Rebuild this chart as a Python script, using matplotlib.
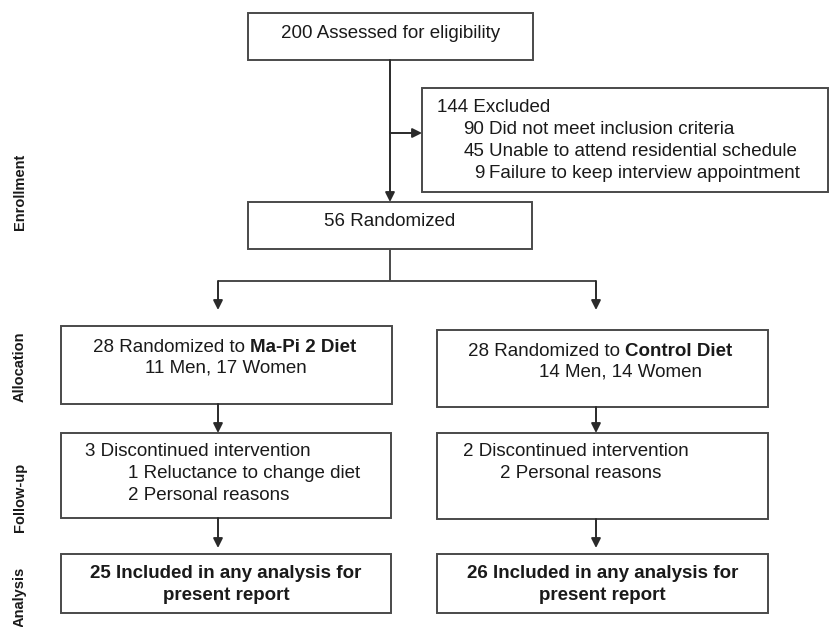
import matplotlib.pyplot as plt
from matplotlib.patches import Rectangle

# Akış şeması verileri
stage_labels = ['Enrollment', 'Allocation', 'Follow-up', 'Analysis']
assessed = 200
excluded_total = 144
excluded_counts = [90, 45, 9]
excluded_reasons = ['Did not meet inclusion criteria',
                    'Unable to attend residential schedule',
                    'Failure to keep interview appointment']
randomized = 56
arm_names = ['Ma-Pi 2 Diet', 'Control Diet']
arm_n = [28, 28]
men = [11, 14]
women = [17, 14]
discontinued = [3, 2]
disc_counts = [[1, 2], [2]]
disc_reasons = [['Reluctance to change diet', 'Personal reasons'], ['Personal reasons']]
analysed = [25, 26]

plt.rcParams['font.family'] = ['Liberation Sans', 'DejaVu Sans']
FS = 13.5
TXT = '#1a1a1a'
EDGE = '#4a4a4a'
LW = 1.4

fig = plt.figure(figsize=(8.3, 6.27), dpi=100)
ax = fig.add_axes([0, 0, 1, 1])
ax.set_xlim(0, 830)
ax.set_ylim(627, 0)
ax.axis('off')


def box(x0, y0, x1, y1):
    ax.add_patch(Rectangle((x0, y0), x1 - x0, y1 - y0, fill=False,
                           edgecolor=EDGE, lw=LW, clip_on=False))


def line(xs, ys):
    ax.plot(xs, ys, color=EDGE, lw=LW, solid_capstyle='butt')


def arrow(x0, y0, x1, y1):
    ax.annotate('', xy=(x1, y1), xytext=(x0, y0),
                arrowprops=dict(arrowstyle='-|>', color='#2a2a2a', lw=LW,
                                mutation_scale=14, shrinkA=0, shrinkB=0))


def txt(x, y, s, ha='left', bold=False, size=FS):
    return ax.text(x, y, s, ha=ha, va='center', fontsize=size, color=TXT,
                   fontweight='bold' if bold else 'normal')


# Kayıt aşaması
box(248, 13, 533, 60)
txt(390.5, 33, f'{assessed} Assessed for eligibility', ha='center')
arrow(390, 60, 390, 202)

box(422, 88, 828, 192)
arrow(390, 133, 422, 133)
txt(437, 108, f'{excluded_total} Excluded')
for i, (n, r) in enumerate(zip(excluded_counts, excluded_reasons)):
    y = 130 + i * 22
    txt(484, y, str(n), ha='right')
    txt(489, y, r)

box(248, 202, 532, 249)
txt(390, 222, f'{randomized} Randomized', ha='center')

# Dallanma
line([390, 390], [249, 281])
line([218, 596], [281, 281])
arm_x = [218, 596]
for x in arm_x:
    arrow(x, 281, x, 310)

# Kollar
alloc_box = [(61, 326, 392, 404), (437, 330, 768, 407)]
line1_x = [93, 468]
line2_x = [226, 620]
fu_box = [(61, 433, 391, 518), (437, 433, 768, 519)]
fu_x = [85, 463]
fu_sub_x = [128, 500]
an_box = [(61, 554, 391, 613), (437, 554, 768, 613)]

for k in range(2):
    x0, y0, x1, y1 = alloc_box[k]
    box(x0, y0, x1, y1)
    t = txt(line1_x[k], y0 + 21, f'{arm_n[k]} Randomized to ')
    ax.annotate(arm_names[k], xy=(1, 0), xycoords=t, ha='left', va='bottom',
                fontsize=FS, fontweight='bold', color=TXT)
    txt(line2_x[k], y0 + 42, f'{men[k]} Men, {women[k]} Women', ha='center')
    arrow(arm_x[k], y1, arm_x[k], 433)

    x0, y0, x1, y1 = fu_box[k]
    box(x0, y0, x1, y1)
    txt(fu_x[k], 452, f'{discontinued[k]} Discontinued intervention')
    for j, (n, r) in enumerate(zip(disc_counts[k], disc_reasons[k])):
        txt(fu_sub_x[k], 474 + j * 22, f'{n} {r}')
    arrow(arm_x[k], y1, arm_x[k], 548)

    x0, y0, x1, y1 = an_box[k]
    box(x0, y0, x1, y1)
    cx = (x0 + x1) / 2
    txt(cx, 573, f'{analysed[k]} Included in any analysis for', ha='center', bold=True)
    txt(cx, 596, 'present report', ha='center', bold=True)

# Aşama etiketleri
for lab, y in zip(stage_labels, [192, 367, 497, 597]):
    ax.text(20, y, lab, rotation=90, ha='center', va='center', fontsize=10.5,
            fontweight='bold', color=TXT)

fig.savefig('out.png', dpi=100, facecolor='white')
